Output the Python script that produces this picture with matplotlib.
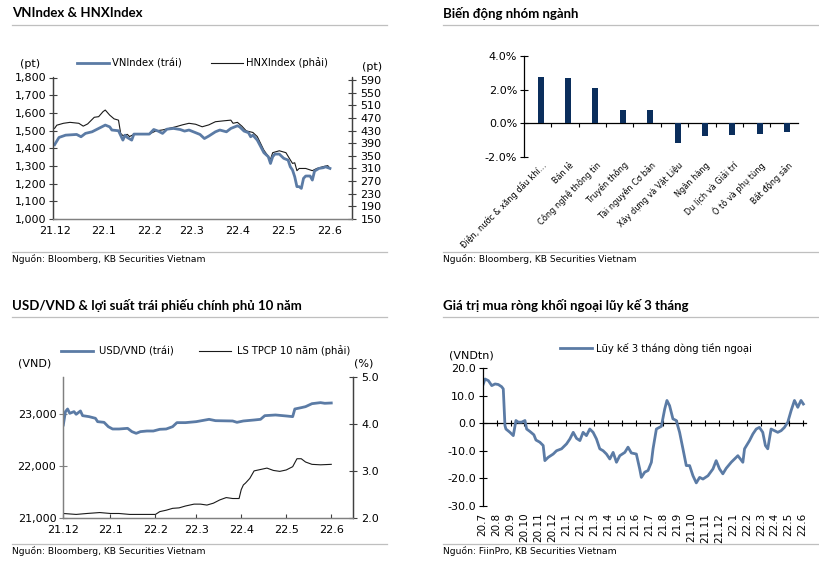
import matplotlib
matplotlib.use("Agg")
import matplotlib.pyplot as plt
from matplotlib.lines import Line2D
from matplotlib.ticker import FuncFormatter
from matplotlib.transforms import ScaledTranslation

W, H = 820, 563  # figure size in pixels

# VNIndex & HNXIndex (x = trading day counted from 21.12)
vn_days = [0, 2, 5, 10, 12, 14, 17, 20, 23, 25, 26, 29, 31, 32, 33, 35, 36, 39, 43, 45, 47, 49, 51, 54,
           57, 59, 61, 64, 66, 68, 70, 73, 75, 78, 80, 83, 84, 86, 88, 89, 90, 92, 94, 95, 97, 98, 99,
           100, 102, 104, 106, 107, 108, 109, 110, 111, 112, 113, 114, 116, 117, 118, 120, 122, 123, 125]
vn_values = [1420, 1461, 1474, 1478, 1465, 1484, 1493, 1512, 1531, 1521, 1503, 1499, 1446, 1474, 1461,
             1446, 1480, 1480, 1480, 1506, 1497, 1484, 1508, 1512, 1506, 1497, 1503, 1488, 1478, 1455,
             1469, 1493, 1503, 1493, 1512, 1527, 1521, 1497, 1488, 1465, 1474, 1446, 1399, 1375, 1352,
             1314, 1352, 1367, 1367, 1343, 1333, 1295, 1277, 1239, 1183, 1183, 1173, 1230, 1243, 1243,
             1220, 1271, 1286, 1290, 1295, 1286]
hnx_days = [0, 1, 4, 7, 11, 13, 15, 18, 20, 22, 23, 25, 27, 29, 30, 31, 33, 34, 36, 40, 43, 46, 49, 52,
            55, 58, 61, 64, 67, 70, 73, 77, 80, 81, 83, 85, 87, 90, 92, 95, 96, 98, 99, 102, 105, 107,
            108, 109, 110, 111, 114, 117, 119, 122, 124, 125]
hnx_values = [437, 447, 453, 456, 453, 444, 451, 472, 474, 490, 495, 479, 467, 463, 421, 414, 418, 411,
              418, 418, 419, 429, 432, 437, 442, 448, 453, 450, 442, 448, 458, 461, 463, 453, 456, 444,
              429, 424, 411, 368, 358, 339, 360, 366, 360, 337, 326, 328, 303, 310, 310, 303, 310, 316,
              319, 310]
month_ticks = [0, 22, 43, 62, 83, 104, 125]
month_labels = ["21.12", "22.1", "22.2", "22.3", "22.4", "22.5", "22.6"]

# Sector changes
sectors = ["Điện, nước & xăng dầu khí…", "Bán lẻ", "Công nghệ thông tin", "Truyền thông",
           "Tài nguyên Cơ bản", "Xây dựng và Vật Liệu", "Ngân hàng", "Du lịch và Giải trí",
           "Ô tô và phụ tùng", "Bất động sản"]
sector_change = [2.76, 2.66, 2.12, 0.80, 0.76, -1.18, -0.78, -0.70, -0.66, -0.52]

# USD/VND and 10Y government bond yield
usd_days = [0, 1, 2, 3, 5, 6, 8, 9, 12, 15, 16, 19, 21, 23, 26, 30, 32, 34, 36, 39, 42, 45, 48, 51, 53,
            57, 62, 68, 71, 79, 81, 84, 89, 92, 94, 99, 104, 107, 108, 111, 113, 116, 120, 122, 125]
usd_values = [22794, 23052, 23103, 23019, 23052, 23000, 23065, 22974, 22955, 22923, 22858, 22845, 22761,
              22716, 22716, 22729, 22665, 22632, 22665, 22677, 22677, 22710, 22716, 22761, 22839, 22839,
              22858, 22903, 22877, 22871, 22845, 22871, 22890, 22903, 22974, 22987, 22968, 22955, 23103,
              23129, 23148, 23206, 23226, 23213, 23219]
bond_days = [0, 6, 11, 17, 22, 26, 31, 36, 43, 45, 48, 51, 54, 57, 61, 64, 67, 70, 73, 76, 79, 82, 83,
             84, 85, 87, 89, 91, 95, 98, 101, 104, 107, 109, 111, 113, 116, 120, 125]
bond_values = [2.09, 2.07, 2.09, 2.11, 2.09, 2.09, 2.07, 2.07, 2.07, 2.13, 2.16, 2.20, 2.21, 2.25, 2.29,
               2.29, 2.27, 2.31, 2.38, 2.43, 2.41, 2.41, 2.60, 2.70, 2.74, 2.84, 3.00, 3.02, 3.06, 3.01,
               2.99, 3.02, 3.09, 3.26, 3.26, 3.19, 3.14, 3.13, 3.14]

# Foreign net buying, 3 month cumulative (x = months from 20.7)
flow_months = [0, 0.17, 0.41, 0.65, 0.89, 1.12, 1.36, 1.48, 1.60, 1.67, 1.96, 2.20, 2.39, 2.56, 2.80,
               3.04, 3.16, 3.40, 3.68, 3.83, 4.11, 4.35, 4.47, 4.71, 5.07, 5.31, 5.67, 6.03, 6.27, 6.51,
               6.75, 6.99, 7.22, 7.46, 7.70, 7.94, 8.18, 8.42, 8.66, 8.90, 9.14, 9.38, 9.62, 9.86, 10.22,
               10.45, 10.69, 11.05, 11.29, 11.41, 11.65, 11.89, 12.13, 12.25, 12.49, 12.85, 13.09, 13.25,
               13.44, 13.68, 13.92, 14.16, 14.40, 14.64, 14.88, 15.12, 15.36, 15.60, 15.84, 16.20, 16.56,
               16.79, 17.03, 17.27, 17.51, 17.87, 18.11, 18.35, 18.71, 18.83, 19.19, 19.43, 19.67, 19.90,
               20.14, 20.33, 20.50, 20.74, 20.98, 21.22, 21.46, 21.70, 21.94, 22.18, 22.42, 22.66, 22.89,
               23.06]
flow_values = [13.7, 16.1, 15.5, 13.7, 14.3, 14.1, 13.3, 12.5, -0.8, -2.1, -3.3, -4.5, 1.0, 0.4, 0.4,
               1.0, -2.1, -3.0, -4.2, -6.1, -6.9, -8.1, -13.6, -12.4, -11.2, -10.0, -9.3, -7.5, -5.7,
               -3.3, -5.5, -6.3, -3.3, -4.5, -2.1, -3.3, -5.7, -9.3, -10.0, -11.2, -13.0, -10.6, -14.2,
               -11.8, -10.6, -8.7, -10.8, -11.2, -16.6, -19.7, -17.8, -17.2, -14.2, -9.3, -2.1, -1.1,
               5.2, 8.3, 6.4, 1.6, 1.0, -3.3, -9.3, -15.4, -15.4, -19.1, -21.7, -19.7, -20.3, -19.1,
               -16.6, -13.6, -16.6, -18.4, -16.4, -14.2, -13.0, -11.8, -14.2, -9.3, -6.3, -3.9, -2.1,
               -1.5, -3.3, -8.1, -9.3, -2.1, -2.7, -3.3, -2.7, -1.5, 0.4, 4.6, 8.3, 5.8, 8.3, 7.0]
flow_labels = ["20.7", "20.8", "20.9", "20.10", "20.11", "20.12",
               "21.1", "21.2", "21.3", "21.4", "21.5", "21.6", "21.7", "21.8", "21.9", "21.10",
               "21.11", "21.12", "22.1", "22.2", "22.3", "22.4", "22.5", "22.6"]

BLUE = "#5b7ba5"
NAVY = "#0b2e5c"
TXT = ["DejaVu Sans"]
TITLE = ["Lato", "DejaVu Sans"]

plt.rcParams["font.family"] = TXT
plt.rcParams["font.size"] = 7.5
plt.rcParams["axes.linewidth"] = 0.9


def rect(x0, y0, x1, y1):
    return [x0 / W, 1 - y1 / H, (x1 - x0) / W, (y1 - y0) / H]  # pixel box -> figure fraction


def ftext(x, y, s, **kw):
    fig.text(x / W, 1 - y / H, s, **kw)


def gline(x0, x1, y):
    fig.add_artist(Line2D([x0 / W, x1 / W], [1 - y / H, 1 - y / H], color="#bfbfbf", lw=0.9,
                          transform=fig.transFigure))


def header(x0, x1, y_title, y_line, y_foot, title, source):
    ftext(x0, y_title, title, family=TITLE, fontweight="bold", fontsize=9.5, va="center")
    gline(x0, x1, y_line)
    gline(x0, x1, y_foot)
    ftext(x0, y_foot + 7.5, source, fontsize=6.6, va="center")


def comma(v, pos):
    return f"{v:,.0f}"


fig = plt.figure(figsize=(W / 100, H / 100), dpi=100)

# ---------- Panel 1: VNIndex & HNXIndex ----------
header(12, 387, 13, 25, 252, "VNIndex & HNXIndex", "Nguồn: Bloomberg, KB Securities Vietnam")
ax1 = fig.add_axes(rect(53.5, 77.5, 352, 219))
ax1r = ax1.twinx()
ax1.plot(vn_days, vn_values, color=BLUE, lw=2.0, zorder=2)
ax1r.plot(hnx_days, hnx_values, color="#1a1a1a", lw=0.8)
ax1.set_zorder(ax1r.get_zorder() + 1)
ax1.patch.set_visible(False)
ax1.set_xlim(-0.5, 135)
ax1.set_ylim(1000, 1800)
ax1.set_yticks(range(1000, 1801, 100))
ax1.yaxis.set_major_formatter(FuncFormatter(comma))
ax1r.set_ylim(150, 598)
ax1r.set_yticks(range(150, 591, 40))
ax1.set_xticks(month_ticks)
ax1.set_xticklabels(month_labels)
ax1.tick_params(axis="x", length=0, pad=5, labelsize=8)
ax1.tick_params(axis="y", direction="inout", length=6, labelsize=8, pad=2, color="#404040")
ax1r.tick_params(axis="y", direction="inout", length=6, labelsize=8, pad=3, color="#404040")
for a in (ax1, ax1r):
    a.spines["top"].set_visible(False)
    a.spines["bottom"].set_color("#808080")
    a.spines["left"].set_color("#404040")
    a.spines["right"].set_color("#404040")
ftext(30, 64, "(pt)", fontsize=8, ha="center", va="center")
ftext(372, 67, "(pt)", fontsize=8, ha="center", va="center")
h1 = [Line2D([], [], color=BLUE, lw=2.0), Line2D([], [], color="#1a1a1a", lw=0.8)]
fig.legend(h1, ["VNIndex (trái)", "HNXIndex (phải)"], loc="center left", ncol=2, frameon=False,
           bbox_to_anchor=(77 / W, 1 - 63 / H), borderaxespad=0, borderpad=0, handlelength=3.2,
           handletextpad=0.3, columnspacing=2.9, fontsize=7.2)

# ---------- Panel 2: sectors ----------
header(443, 820, 13, 25, 252, "Biến động nhóm ngành", "Nguồn: Bloomberg, KB Securities Vietnam")
ax2 = fig.add_axes(rect(524, 56, 797.7, 156.7))
ax2.bar(range(len(sectors)), sector_change, width=0.22, color=NAVY, zorder=2)
ax2.set_xlim(-0.61, 9.39)
ax2.set_ylim(-2, 4)
ax2.set_yticks([-2, 0, 2, 4])
ax2.yaxis.set_major_formatter(FuncFormatter(lambda v, p: f"{v:.1f}%"))
ax2.tick_params(axis="y", direction="inout", length=6, labelsize=8, pad=2)
ax2.set_xticks(range(len(sectors)))
ax2.set_xticklabels(sectors, rotation=45, ha="right", va="center", rotation_mode="anchor",
                    family=TXT, fontsize=5.9)
ax2.tick_params(axis="x", length=0, pad=5)
shift = ScaledTranslation(4 / 100, 0, fig.dpi_scale_trans)  # push labels a few px to the right
for lbl in ax2.get_xticklabels():
    lbl.set_transform(lbl.get_transform() + shift)
for s in ("top", "right", "bottom"):
    ax2.spines[s].set_visible(False)
sec2 = ax2.secondary_xaxis(1 / 3)
sec2.set_xticks([i + 0.39 for i in range(len(sectors) - 1)])
sec2.set_xticklabels([])
sec2.tick_params(direction="out", length=3)

# ---------- Panel 3: USD/VND & bond yield ----------
header(12, 387, 305, 317, 544, "USD/VND & lợi suất trái phiếu chính phủ 10 năm",
       "Nguồn: Bloomberg, KB Securities Vietnam")
ax3 = fig.add_axes(rect(63.3, 377.3, 352.7, 517.7))
ax3r = ax3.twinx()
ax3.plot(usd_days, usd_values, color=BLUE, lw=2.0)
ax3r.plot(bond_days, bond_values, color="#1a1a1a", lw=0.8)
ax3.set_zorder(ax3r.get_zorder() + 1)
ax3.patch.set_visible(False)
ax3.set_xlim(0, 135)
ax3.set_ylim(21000, 23716)
ax3.set_yticks([21000, 22000, 23000])
ax3.yaxis.set_major_formatter(FuncFormatter(comma))
ax3r.set_ylim(2.0, 5.0)
ax3r.set_yticks([2.0, 3.0, 4.0, 5.0])
ax3r.yaxis.set_major_formatter(FuncFormatter(lambda v, p: f"{v:.1f}"))
ax3.set_xticks(month_ticks)
ax3.set_xticklabels(month_labels)
ax3.tick_params(axis="x", direction="in", length=3, labelsize=8, pad=5, color="#404040")
ax3.tick_params(axis="y", direction="inout", length=6, labelsize=8, pad=2, color="#808080")
ax3r.tick_params(axis="y", direction="inout", length=6, labelsize=8, pad=3, color="#404040")
for a in (ax3, ax3r):
    a.spines["top"].set_visible(False)
    a.spines["bottom"].set_color("#808080")
    a.spines["left"].set_color("#808080")
    a.spines["right"].set_color("#404040")
ftext(35, 363, "(VND)", fontsize=8, ha="center", va="center")
ftext(364, 363, "(%)", fontsize=8, ha="center", va="center")
fig.legend(h1, ["USD/VND (trái)", "LS TPCP 10 năm (phải)"], loc="center left", ncol=2, frameon=False,
           bbox_to_anchor=(61 / W, 1 - 351 / H), borderaxespad=0, borderpad=0, handlelength=3.2,
           handletextpad=0.6, columnspacing=2.5, fontsize=7.2)

# ---------- Panel 4: foreign flows ----------
header(443, 820, 305, 317, 544, "Giá trị mua ròng khối ngoại lũy kế 3 tháng",
       "Nguồn: FiinPro, KB Securities Vietnam")
ax4 = fig.add_axes(rect(482.7, 368.3, 806, 505.7))
ax4.plot(flow_months, flow_values, color=BLUE, lw=2.0)
ax4.set_xlim(0, 23.25)
ax4.set_ylim(-30, 20)
ax4.set_yticks(range(-30, 21, 10))
ax4.yaxis.set_major_formatter(FuncFormatter(lambda v, p: f"{v:.1f}"))
ax4.tick_params(axis="y", direction="inout", length=6, labelsize=8, pad=2)
ax4.set_xticks(range(len(flow_labels)))
ax4.set_xticklabels(flow_labels, rotation=90, va="top", ha="center")
ax4.tick_params(axis="x", length=0, pad=5, labelsize=7.5)
for s in ("top", "right", "bottom"):
    ax4.spines[s].set_visible(False)
sec4 = ax4.secondary_xaxis(0.6)
sec4.set_xticks(range(len(flow_labels)))
sec4.set_xticklabels([])
sec4.tick_params(direction="inout", length=5)
ftext(471, 355, "(VNDtn)", fontsize=8, ha="center", va="center")
fig.legend([Line2D([], [], color=BLUE, lw=2.0)], ["Lũy kế 3 tháng dòng tiền ngoại"], loc="center left",
           frameon=False, bbox_to_anchor=(560 / W, 1 - 348 / H), borderaxespad=0, borderpad=0,
           handlelength=3.2, handletextpad=0.4, fontsize=7.2)

fig.savefig("out.png", dpi=100)
